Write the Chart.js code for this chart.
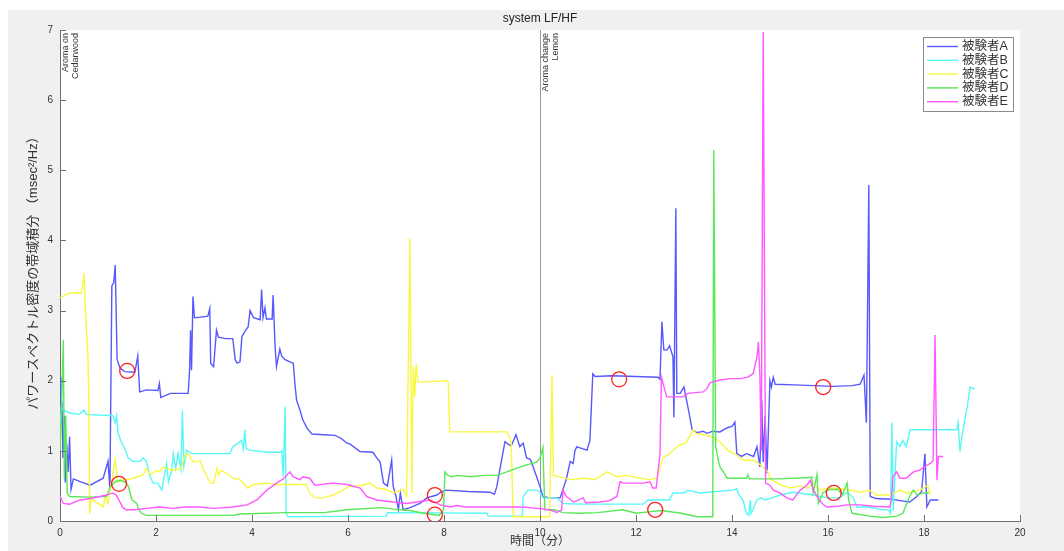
<!DOCTYPE html>
<html>
<head>
<meta charset="utf-8">
<script src="https://cdn.jsdelivr.net/npm/chart.js@4/dist/chart.umd.min.js"></script>
<style>
  html, body { margin: 0; padding: 0; background: #fff; }
  canvas { display: block; }
</style>
</head>
<body>
<canvas id="chart_lfhf" width="1064" height="551"></canvas>
<script>
// 被験者ごとの時間(分)と LF/HF
const timeA = [0,0.02,0.04,0.06,0.09,0.11,0.14,0.17,0.2,0.23,0.28,0.42,0.63,0.9,1.0,1.04,1.08,1.12,1.15,1.19,1.25,1.35,1.56,1.62,1.66,1.8,2.04,2.07,2.1,2.3,2.67,2.7,2.72,2.74,2.77,2.8,2.85,3.08,3.12,3.14,3.2,3.26,3.3,3.45,3.6,3.65,3.69,3.75,3.79,3.85,3.92,3.96,4.03,4.17,4.2,4.23,4.27,4.3,4.42,4.44,4.48,4.51,4.58,4.62,4.69,4.79,4.86,4.9,4.93,5.0,5.06,5.15,5.25,5.5,5.73,5.85,5.98,6.04,6.25,6.52,6.6,6.67,6.74,6.82,6.91,6.94,7.0,7.05,7.09,7.15,7.29,7.5,7.64,7.85,7.95,8.05,8.5,8.96,9.05,9.1,9.2,9.27,9.33,9.4,9.5,9.58,9.65,9.72,9.8,9.93,10.0,10.06,10.2,10.42,10.55,10.63,10.69,10.73,10.77,10.8,10.98,11.04,11.1,11.15,11.5,12.0,12.46,12.5,12.54,12.58,12.65,12.7,12.77,12.79,12.83,12.85,12.92,13.0,13.08,13.17,13.27,13.4,13.48,13.6,13.75,13.9,14.0,14.06,14.1,14.2,14.3,14.45,14.52,14.58,14.62,14.65,14.69,14.73,14.79,14.82,14.86,14.9,15.3,15.7,16.1,16.5,16.67,16.75,16.8,16.85,16.88,17.0,17.33,17.5,17.7,17.85,17.95,18.02,18.06,18.13,18.3];
const valueA = [2.05,1.4,1.7,0.9,1.5,0.55,1.1,0.7,1.2,0.45,0.6,0.56,0.51,0.61,0.85,0.45,3.35,3.4,3.65,2.3,2.18,2.13,2.12,2.35,1.84,1.87,1.86,1.96,1.76,1.82,1.82,2.15,2.72,2.15,3.2,2.9,2.9,2.92,3.03,2.25,2.2,2.72,2.62,2.6,2.6,2.3,2.25,2.27,2.63,2.7,2.77,3.0,2.9,2.87,3.3,2.9,3.04,2.88,2.88,3.22,2.5,2.2,2.45,2.35,2.3,2.27,2.25,1.91,1.72,1.58,1.44,1.32,1.24,1.23,1.22,1.18,1.11,1.1,0.99,0.98,0.9,0.84,0.54,0.5,0.87,0.5,0.35,0.16,0.4,0.16,0.19,0.25,0.33,0.37,0.42,0.44,0.42,0.41,0.38,0.49,0.87,1.13,1.1,1.07,1.23,1.06,1.11,0.9,0.88,0.63,0.49,0.35,0.33,0.33,0.6,0.85,0.82,1.01,1.06,1.05,1.01,1.15,2.1,2.06,2.07,2.06,2.05,2.02,2.84,2.44,2.44,2.5,2.34,1.48,4.46,1.82,1.82,1.91,1.63,1.3,1.26,1.28,1.25,1.28,1.27,1.33,1.35,1.41,0.96,0.92,0.96,0.92,1.06,0.77,1.72,0.84,1.5,0.68,2.0,1.91,2.05,1.95,1.94,1.93,1.92,1.93,1.95,2.08,1.4,4.79,0.35,0.32,0.31,0.29,0.27,0.35,0.42,0.96,0.2,0.3,0.3];

const timeB = [0,0.03,0.08,0.2,0.4,0.5,0.55,1.1,1.15,1.18,1.21,1.29,1.35,1.42,1.52,1.67,1.73,1.8,1.88,1.94,2.04,2.12,2.16,2.22,2.26,2.33,2.36,2.41,2.46,2.52,2.55,2.58,2.64,2.74,3.2,3.54,3.6,3.71,3.78,3.82,3.85,3.88,3.96,4.3,4.58,4.62,4.65,4.69,4.71,4.75,6.8,6.82,8.9,8.92,9.63,9.65,9.75,9.93,10.0,10.06,10.35,10.48,10.8,12.15,12.25,12.7,12.77,13.0,13.08,13.33,14.02,14.1,14.13,14.23,14.3,14.35,14.38,14.4,14.52,14.6,14.7,14.83,15.0,15.27,15.7,15.97,16.25,16.4,16.53,16.6,16.87,17.12,17.26,17.3,17.33,17.36,17.43,17.5,17.56,17.63,17.71,18.2,18.68,18.71,18.75,18.79,18.9,18.96,19.06];
const valueB = [1.3,1.62,1.58,1.54,1.52,1.58,1.52,1.5,1.4,1.5,1.25,1.11,1.03,0.9,0.85,0.85,0.9,0.85,0.63,0.54,0.54,0.44,0.59,0.82,0.56,0.74,0.96,0.75,0.96,0.74,1.58,0.78,1.01,0.96,0.96,0.96,1.06,1.11,1.15,1.03,1.3,1.03,1.01,0.98,0.98,1.0,0.63,1.63,0.11,0.06,0.07,0.12,0.11,0.07,0.07,0.35,0.44,0.44,0.41,0.33,0.33,0.25,0.24,0.24,0.3,0.3,0.4,0.4,0.44,0.4,0.44,0.46,0.39,0.3,0.11,0.08,0.3,0.11,0.3,0.33,0.3,0.33,0.37,0.41,0.37,0.33,0.33,0.41,0.33,0.2,0.2,0.16,0.16,0.11,1.4,0.15,1.13,1.06,1.15,1.06,1.3,1.3,1.3,1.4,0.99,1.2,1.63,1.91,1.88];

const timeC = [0,0.1,0.2,0.45,0.5,0.55,0.58,0.6,0.62,0.65,0.9,0.95,1.0,1.15,1.2,1.29,1.38,1.53,1.73,1.8,1.88,2.0,2.07,2.15,2.22,2.35,2.52,2.6,2.67,2.77,2.92,2.99,3.13,3.2,3.27,3.3,3.36,3.47,3.6,3.75,3.9,4.03,4.31,4.52,4.79,5.13,5.2,5.31,5.48,5.69,5.9,6.0,6.3,6.46,6.6,6.8,6.94,7.15,7.22,7.29,7.33,7.36,7.39,7.42,7.46,7.8,8.06,8.09,8.12,8.7,9.31,9.36,9.4,9.44,10.2,10.25,10.28,10.42,10.63,10.9,11.15,11.4,11.6,11.8,12.1,12.3,12.44,12.56,12.71,12.77,12.9,13.04,13.19,13.25,13.33,13.6,13.75,13.9,14.1,14.23,14.48,14.65,14.75,14.8,14.94,15.07,15.2,15.42,15.56,15.7,15.83,16.04,16.25,16.46,16.67,16.87,17.0,17.29,17.5,17.64,17.92,18.08,18.13];
const valueC = [3.18,3.22,3.25,3.25,3.53,2.72,2.4,1.77,0.1,0.32,0.2,0.35,0.25,0.87,0.55,0.59,0.59,0.61,0.66,0.75,0.66,0.72,0.7,0.77,0.75,0.72,0.75,0.94,0.96,0.84,0.86,0.73,0.54,0.54,0.75,0.66,0.72,0.68,0.61,0.59,0.47,0.52,0.54,0.52,0.52,0.52,0.4,0.33,0.33,0.37,0.44,0.49,0.51,0.54,0.47,0.45,0.4,0.45,0.35,4.03,0.4,2.2,1.77,2.24,1.98,1.99,2.0,1.97,1.27,1.27,1.27,1.2,1.11,0.06,0.06,2.08,0.65,0.63,0.59,0.61,0.59,0.7,0.63,0.65,0.61,0.59,0.61,0.9,0.96,1.01,1.08,1.11,1.3,1.25,1.24,1.2,1.13,1.01,0.94,0.87,0.86,0.77,0.7,0.6,0.54,0.5,0.47,0.5,0.47,0.53,0.44,0.47,0.46,0.44,0.41,0.44,0.37,0.37,0.44,0.4,0.44,0.51,0.37];

const timeD = [0,0.03,0.07,0.09,0.12,0.15,0.2,0.6,0.97,1.04,1.15,1.25,1.35,1.42,1.5,1.6,1.64,1.7,1.8,3.61,3.75,4.72,5.5,5.98,6.7,6.94,7.29,7.57,7.9,7.99,8.02,8.06,8.15,8.29,8.56,8.83,9.1,9.31,9.5,9.72,9.93,10.0,10.06,10.1,10.3,10.48,10.8,11.2,11.73,12.0,12.25,12.53,12.94,13.27,13.6,13.62,13.66,13.72,13.75,13.8,13.9,14.3,14.33,14.36,15.0,15.63,15.66,15.69,15.77,15.8,15.9,16.04,16.2,16.3,16.4,16.43,16.5,16.6,16.87,17.15,17.43,17.56,17.7,17.78,17.85,17.99,18.1];
const valueD = [1.0,1.6,2.58,0.6,1.5,0.4,0.35,0.34,0.35,0.48,0.56,0.58,0.56,0.5,0.3,0.25,0.16,0.11,0.08,0.08,0.1,0.12,0.12,0.16,0.19,0.17,0.15,0.11,0.08,0.16,0.7,0.66,0.63,0.65,0.63,0.65,0.65,0.7,0.75,0.8,0.84,0.9,1.05,0.16,0.16,0.12,0.11,0.12,0.16,0.11,0.13,0.15,0.11,0.06,0.06,5.29,1.06,0.85,0.77,0.72,0.61,0.61,0.66,0.6,0.6,0.62,0.63,0.4,0.66,0.25,0.41,0.45,0.45,0.38,0.54,0.3,0.11,0.1,0.07,0.05,0.07,0.11,0.35,0.44,0.37,0.4,0.4];

const timeE = [0,0.07,0.2,0.42,0.63,0.83,0.97,1.1,1.17,1.25,1.31,1.38,1.55,1.8,2.08,2.35,2.61,2.9,3.2,3.6,3.9,4.1,4.31,4.51,4.65,4.79,4.86,5.0,5.06,5.2,5.31,5.69,5.98,6.04,6.25,6.39,6.6,6.94,7.22,7.43,7.71,7.92,8.13,8.27,8.45,9.08,9.65,9.93,10.2,10.35,10.45,10.48,10.55,10.7,10.9,10.95,11.25,11.45,11.6,11.67,11.75,11.94,12.15,12.29,12.35,12.42,12.5,12.53,12.56,12.64,12.98,13.08,13.4,13.48,13.54,13.75,13.96,14.17,14.33,14.44,14.52,14.55,14.58,14.61,14.65,14.7,14.79,14.86,15.0,15.14,15.27,15.34,15.42,15.56,15.63,15.7,15.77,15.88,15.97,16.2,16.4,16.67,16.94,17.29,17.32,17.35,17.43,17.5,17.63,17.78,17.92,18.0,18.13,18.19,18.23,18.27,18.3,18.4];
const valueE = [0.35,0.25,0.24,0.3,0.32,0.35,0.37,0.4,0.37,0.27,0.19,0.16,0.16,0.18,0.2,0.18,0.2,0.2,0.18,0.2,0.23,0.3,0.44,0.54,0.6,0.7,0.63,0.59,0.63,0.61,0.51,0.54,0.52,0.51,0.47,0.35,0.3,0.27,0.25,0.27,0.3,0.23,0.2,0.22,0.2,0.2,0.2,0.18,0.16,0.12,0.16,0.44,0.35,0.27,0.33,0.26,0.27,0.29,0.35,0.56,0.54,0.54,0.54,0.56,0.47,0.47,0.96,2.05,1.97,1.77,1.77,1.82,1.84,1.89,1.97,2.01,2.03,2.03,2.05,2.1,2.34,2.55,2.1,1.0,6.97,0.54,0.51,0.44,0.4,0.33,0.3,0.37,0.44,0.51,0.58,0.44,0.35,0.25,0.2,0.21,0.23,0.23,0.21,0.2,0.3,0.63,0.7,0.61,0.61,0.7,0.73,0.77,0.82,0.86,2.65,0.58,0.92,0.92];

// 赤丸の位置
const circleTime = [1.4, 1.23, 7.81, 7.81, 11.65, 12.4, 15.9, 16.12];
const circleValue = [2.14, 0.53, 0.37, 0.09, 2.02, 0.16, 1.91, 0.4];

// イベント
const markerTimes = [0, 10];
const markerLabels = [['Aroma on', 'Cedarwood'], ['Aroma change', 'Lemon']];

const seriesLabels = ['被験者A', '被験者B', '被験者C', '被験者D', '被験者E'];
const seriesColors = ['#5858ff', '#58f8f8', '#f8f840', '#58e858', '#ff58ff'];
const xTicks = [0, 2, 4, 6, 8, 10, 12, 14, 16, 18, 20];
const yTicks = [0, 1, 2, 3, 4, 5, 6, 7];

const FONT = "'Liberation Sans', 'Noto Sans CJK JP', sans-serif";

const toPoints = (xs, ys) => xs.map((x, i) => ({ x: x, y: ys[i] }));
const allTimes = [timeA, timeB, timeC, timeD, timeE];
const allValues = [valueA, valueB, valueC, valueD, valueE];

let datasets = seriesLabels.map((label, i) => ({
  label: label,
  data: toPoints(allTimes[i], allValues[i]),
  borderColor: seriesColors[i],
  borderWidth: 1.4,
  pointRadius: 0,
  showLine: true,
  tension: 0,
  order: 5 - i
}));

datasets.push({
  label: 'circles',
  data: toPoints(circleTime, circleValue),
  showLine: false,
  pointRadius: 7.5,
  pointBorderWidth: 1.3,
  pointBorderColor: '#ff2020',
  pointBackgroundColor: 'rgba(0,0,0,0)',
  order: -1
});

const frame = {
  id: 'frame',
  beforeDraw(chart) {
    let { ctx, chartArea: a } = chart;
    ctx.save();
    ctx.fillStyle = '#ffffff';
    ctx.fillRect(0, 0, chart.width, chart.height);
    ctx.fillStyle = '#f0f0f0';
    ctx.fillRect(8, 10, chart.width - 8, chart.height - 10);
    ctx.fillStyle = '#ffffff';
    ctx.fillRect(a.left, a.top, a.right - a.left, a.bottom - a.top);

    // event lines
    let xs = chart.scales.x;
    ctx.strokeStyle = '#9a9a9a';
    ctx.lineWidth = 1;
    markerTimes.forEach((t) => {
      if (t === 0) return;
      let px = Math.round(xs.getPixelForValue(t)) + 0.5;
      ctx.beginPath();
      ctx.moveTo(px, a.top);
      ctx.lineTo(px, a.bottom);
      ctx.stroke();
    });
    ctx.restore();
  },
  afterDraw(chart) {
    let { ctx, chartArea: a, scales } = chart;
    ctx.save();

    // inward ticks
    ctx.strokeStyle = '#707070';
    ctx.lineWidth = 1;
    xTicks.forEach((t) => {
      let px = Math.round(scales.x.getPixelForValue(t)) + 0.5;
      ctx.beginPath();
      ctx.moveTo(px, a.bottom);
      ctx.lineTo(px, a.bottom - 6);
      ctx.stroke();
    });
    yTicks.forEach((t) => {
      let py = Math.round(scales.y.getPixelForValue(t)) + 0.5;
      ctx.beginPath();
      ctx.moveTo(a.left, py);
      ctx.lineTo(a.left + 6, py);
      ctx.stroke();
    });

    // title
    ctx.fillStyle = '#222';
    ctx.font = '12px ' + FONT;
    ctx.textAlign = 'center';
    ctx.textBaseline = 'middle';
    ctx.fillText('system LF/HF', (a.left + a.right) / 2, 19);

    // x label
    ctx.font = '12px ' + FONT;
    ctx.fillStyle = '#333';
    ctx.fillText('時間（分）', (a.left + a.right) / 2, 542);

    // y label
    ctx.save();
    ctx.translate(33, 270);
    ctx.rotate(-Math.PI / 2);
    ctx.font = '13px ' + FONT;
    ctx.fillText('パワースペクトル密度の帯域積分 （msec²/Hz）', 0, 0);
    ctx.restore();

    // event labels
    ctx.font = '9px ' + FONT;
    ctx.fillStyle = '#333';
    markerTimes.forEach((t, i) => {
      let px = scales.x.getPixelForValue(t);
      markerLabels[i].forEach((txt, j) => {
        ctx.save();
        ctx.translate(px + 6 + j * 10, a.top + 3);
        ctx.rotate(-Math.PI / 2);
        ctx.textAlign = 'right';
        ctx.textBaseline = 'middle';
        ctx.fillText(txt, 0, 0);
        ctx.restore();
      });
    });

    // legend
    let lx = 923, ly = 37, lw = 90, lh = 74;
    ctx.fillStyle = '#ffffff';
    ctx.fillRect(lx, ly, lw, lh);
    ctx.strokeStyle = '#8a8a8a';
    ctx.strokeRect(lx + 0.5, ly + 0.5, lw, lh);
    ctx.font = '12.5px ' + FONT;
    ctx.textAlign = 'left';
    ctx.textBaseline = 'middle';
    seriesLabels.forEach((label, i) => {
      let yy = ly + 9.5 + i * 13.8;
      ctx.strokeStyle = seriesColors[i];
      ctx.lineWidth = 1.4;
      ctx.beginPath();
      ctx.moveTo(lx + 4, yy);
      ctx.lineTo(lx + 35, yy);
      ctx.stroke();
      ctx.fillStyle = '#333';
      ctx.fillText(label, lx + 39, yy);
    });

    ctx.restore();
  }
};

new Chart('chart_lfhf', {
  type: 'scatter',
  data: { datasets },
  plugins: [frame],
  options: {
    responsive: false,
    animation: false,
    devicePixelRatio: 1,
    layout: { padding: { top: 30, right: 44, left: 0, bottom: 0 } },
    plugins: {
      legend: { display: false },
      tooltip: { enabled: false }
    },
    scales: {
      x: {
        type: 'linear',
        min: 0,
        max: 20,
        afterFit: (scale) => { scale.height = 30; },
        afterBuildTicks: (scale) => { scale.ticks = xTicks.map((v) => ({ value: v })); },
        grid: { display: false, drawTicks: false },
        border: { display: true, color: '#707070', width: 1 },
        ticks: { padding: 6, color: '#333', font: { size: 10, family: FONT }, maxRotation: 0 }
      },
      y: {
        type: 'linear',
        min: 0,
        max: 7,
        afterFit: (scale) => { scale.width = 60; },
        afterBuildTicks: (scale) => { scale.ticks = yTicks.map((v) => ({ value: v })); },
        grid: { display: false, drawTicks: false },
        border: { display: true, color: '#707070', width: 1 },
        ticks: { padding: 7, color: '#333', font: { size: 10, family: FONT } }
      }
    }
  }
});
</script>
</body>
</html>
